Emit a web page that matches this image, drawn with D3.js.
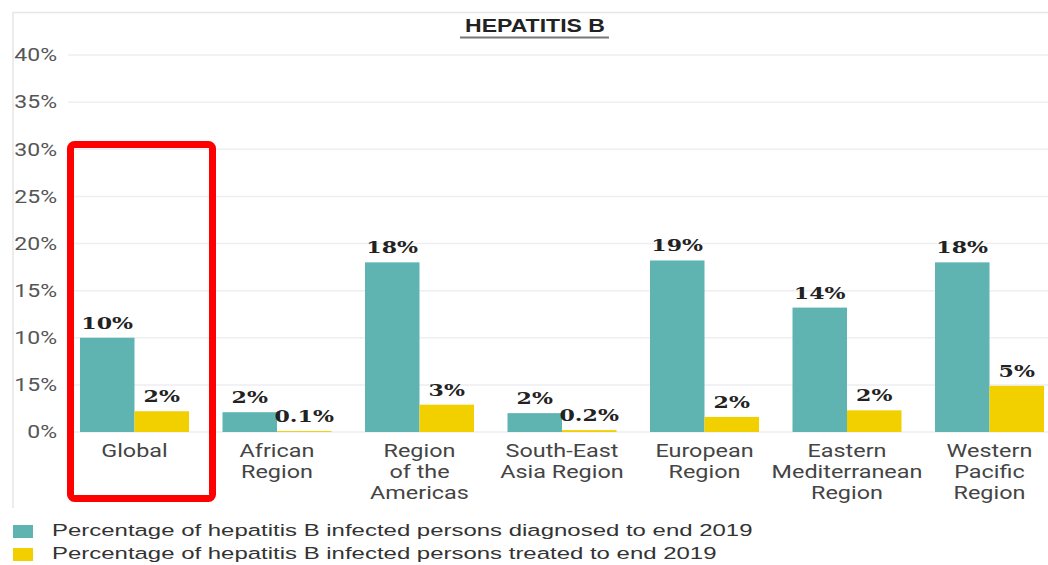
<!DOCTYPE html>
<html>
<head>
<meta charset="utf-8">
<script src="https://cdn.jsdelivr.net/npm/d3@7"></script>
<style>
  body { margin: 0; background: #fff; }
  svg { display: block; }
</style>
</head>
<body>
<div class="chart"></div>
<script>
// data
const regions = [
  ["Global"],
  ["African", "Region"],
  ["Region", "of the", "Americas"],
  ["South-East", "Asia Region"],
  ["European", "Region"],
  ["Eastern", "Mediterranean", "Region"],
  ["Western", "Pacific", "Region"]
];
const diagnosed = [10, 2.1, 18, 2.0, 18.2, 13.2, 18];
const treated = [2.2, 0.1, 2.9, 0.2, 1.6, 2.3, 4.9];
const diagnosedLabels = ["10%", "2%", "18%", "2%", "19%", "14%", "18%"];
const treatedLabels = ["2%", "0.1%", "3%", "0.2%", "2%", "2%", "5%"];
const tickValues = [0, 5, 10, 15, 20, 25, 30, 35, 40];
const tickLabels = ["0%", "15%", "10%", "15%", "20%", "25%", "30%", "35%", "40%"];
const legendLabels = [
  "Percentage of hepatitis B infected persons diagnosed to end 2019",
  "Percentage of hepatitis B infected persons treated to end 2019"
];

const width = 1048, height = 565;
const colors = ["#5fb4b2", "#f2d000"];

// the original image is stretched sideways, so text gets a horizontal scale
function stretch(sel, k, origin) {
  sel.style("transform-box", "fill-box")
    .style("transform-origin", origin)
    .style("transform", `scaleX(${k})`);
}

const svg = d3.select(".chart").append("svg")
  .attr("width", width)
  .attr("height", height);

// frame
svg.append("path")
  .attr("d", "M13,508 V12.5 H1048")
  .attr("fill", "none")
  .attr("stroke", "#e6e6ea")
  .attr("stroke-width", 1.5);

// title
svg.append("text")
  .attr("x", 535)
  .attr("y", 32)
  .attr("text-anchor", "middle")
  .style("font-family", "Liberation Sans, Arial, sans-serif")
  .style("font-weight", "bold")
  .style("font-size", "18px")
  .attr("fill", "#222")
  .text("HEPATITIS B")
  .call(stretch, 1.28, "center");
svg.append("line")
  .attr("x1", 460).attr("x2", 609)
  .attr("y1", 37.5).attr("y2", 37.5)
  .attr("stroke", "#777")
  .attr("stroke-width", 2);

const y = d3.scaleLinear().domain([0, 40]).range([432, 55]);
const x = d3.scaleBand().domain(d3.range(regions.length)).range([80, 1044])
  .paddingInner(0.235).paddingOuter(0);
const xs = d3.scaleBand().domain([0, 1]).range([0, x.bandwidth()]);

// grid
svg.append("g")
  .selectAll("line")
  .data(tickValues)
  .enter()
  .append("line")
  .attr("x1", 68).attr("x2", width)
  .attr("y1", d => y(d)).attr("y2", d => y(d))
  .attr("stroke", "#eeeef3")
  .attr("stroke-width", 1.5);

// y axis labels
const yAxis = svg.append("g")
  .attr("transform", "translate(57,0)")
  .call(d3.axisLeft(y).tickValues(tickValues).tickSize(0).tickPadding(0)
    .tickFormat((d, i) => tickLabels[i]));
yAxis.select(".domain").remove();
yAxis.selectAll("text")
  .style("font-family", "Roboto, sans-serif")
  .style("font-size", "18px")
  .attr("fill", "#555")
  .call(stretch, 1.28, "right");

const series = [
  { values: diagnosed, labels: diagnosedLabels },
  { values: treated, labels: treatedLabels }
];

series.forEach((s, si) => {
  const g = svg.append("g");
  g.selectAll("rect")
    .data(s.values)
    .enter()
    .append("rect")
    .attr("x", (d, i) => x(i) + xs(si))
    .attr("width", xs.bandwidth())
    .attr("y", d => y(d))
    .attr("height", d => y(0) - y(d))
    .attr("fill", colors[si]);

  g.selectAll("text")
    .data(s.values)
    .enter()
    .append("text")
    .attr("x", (d, i) => x(i) + xs(si) + xs.bandwidth() / 2)
    .attr("y", d => y(d) - 9)
    .attr("text-anchor", "middle")
    .style("font-family", "DejaVu Serif, serif")
    .style("font-weight", "bold")
    .style("font-size", "17px")
    .attr("fill", "#222")
    .text((d, i) => s.labels[i])
    .call(stretch, 1.3, "center");
});

// category labels
const cats = svg.append("g")
  .selectAll("text")
  .data(regions)
  .enter()
  .append("text")
  .attr("x", (d, i) => x(i) + x.bandwidth() / 2)
  .attr("y", 457)
  .attr("text-anchor", "middle")
  .style("font-family", "Roboto, sans-serif")
  .style("font-size", "18px")
  .attr("fill", "#444");
cats.selectAll("tspan")
  .data(d => d)
  .enter()
  .append("tspan")
  .attr("x", function () { return this.parentNode.getAttribute("x"); })
  .attr("dy", (d, i) => i === 0 ? 0 : 21)
  .text(d => d);
cats.call(stretch, 1.3, "center");

// highlight box round Global
svg.append("rect")
  .attr("x", 70.5).attr("y", 144.5)
  .attr("width", 142).attr("height", 354)
  .attr("rx", 4)
  .attr("fill", "none")
  .attr("stroke", "#ff0000")
  .attr("stroke-width", 7);

// legend
const legend = svg.append("g")
  .selectAll("g")
  .data(legendLabels)
  .enter()
  .append("g")
  .attr("transform", (d, i) => `translate(13,${525 + i * 23})`);
legend.append("rect")
  .attr("width", 20).attr("height", 13)
  .attr("fill", (d, i) => colors[i]);
legend.append("text")
  .attr("x", 39).attr("y", 11)
  .style("font-family", "Liberation Sans, Arial, sans-serif")
  .style("font-size", "17px")
  .attr("fill", "#333")
  .text(d => d)
  .call(stretch, 1.41, "left");
</script>
</body>
</html>
